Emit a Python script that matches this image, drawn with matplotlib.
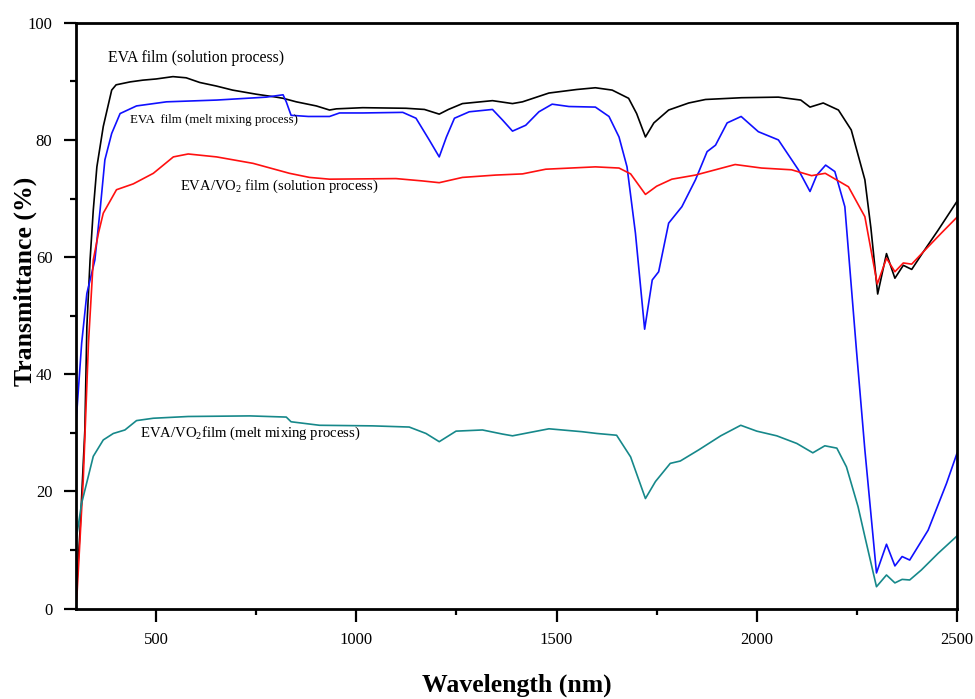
import matplotlib
matplotlib.use("Agg")
import matplotlib.pyplot as plt
from matplotlib.ticker import MultipleLocator

plt.rcParams['font.family'] = ['Liberation Serif', 'DejaVu Serif']
plt.rcParams['mathtext.fontset'] = 'custom'
plt.rcParams['mathtext.rm'] = 'Liberation Serif'
plt.rcParams['mathtext.it'] = 'Liberation Serif:italic'

# EVA film (solution process)
eva_sol_x = [300, 310, 322, 327, 335, 343, 352, 368, 389, 400, 435, 467, 500, 542, 575, 609,
             650, 691, 750, 800, 817, 850, 900, 933, 950, 1016, 1124, 1170, 1207, 1230, 1265,
             1340, 1390, 1415, 1481, 1550, 1597, 1639, 1680, 1700, 1722, 1743, 1780, 1830,
             1872, 1962, 2054, 2110, 2133, 2166, 2204, 2236, 2270, 2285, 2302, 2324, 2345,
             2366, 2387, 2416, 2453, 2500]
eva_sol_y = [2, 13.4, 30.5, 48.1, 59.5, 68, 75.4, 82.3, 88.5, 89.4, 89.9, 90.2, 90.4, 90.8,
             90.6, 89.8, 89.2, 88.5, 87.8, 87.3, 87.1, 86.5, 85.8, 85.1, 85.3, 85.5, 85.4,
             85.2, 84.4, 85.2, 86.2, 86.7, 86.2, 86.5, 88.0, 88.6, 88.9, 88.5, 87.1, 84.5,
             80.5, 82.9, 85.1, 86.3, 86.9, 87.2, 87.3, 86.8, 85.6, 86.3, 85.1, 81.7, 73.2,
             65, 53.7, 60.6, 56.4, 58.6, 57.9, 60.9, 64.6, 69.5]

# EVA film (melt mixing process)
eva_melt_x = [300, 314, 327, 347, 360, 372, 389, 410, 451, 526, 651, 775, 817, 825, 837, 880,
              933, 958, 1016, 1116, 1149, 1182, 1207, 1225, 1245, 1282, 1340, 1365, 1390,
              1423, 1456, 1489, 1531, 1597, 1631, 1656, 1676, 1697, 1720, 1739, 1755, 1780,
              1813, 1847, 1876, 1897, 1926, 1961, 2004, 2054, 2104, 2133, 2150, 2172, 2195,
              2220, 2249, 2270, 2299, 2324, 2345, 2363, 2382, 2428, 2474, 2500]
eva_melt_y = [31.7, 45.3, 53.8, 59.5, 68, 76.6, 81.1, 84.5, 85.8, 86.5, 86.8, 87.3, 87.7,
              86.5, 84.2, 84.0, 84.0, 84.6, 84.6, 84.7, 83.7, 80, 77.1, 80.5, 83.7, 84.8,
              85.2, 83.4, 81.5, 82.5, 84.8, 86.1, 85.7, 85.6, 84.0, 80.5, 75.4, 64.1, 47.7,
              56.1, 57.5, 65.8, 68.6, 73.2, 78.0, 79.1, 82.9, 84.0, 81.4, 80.0, 74.9, 71.2,
              74.0, 75.7, 74.6, 68.6, 44.1, 27.1, 6.1, 11.0, 7.3, 8.9, 8.3, 13.4, 21.4, 26.5]

# EVA/VO2 film (solution process)
vo2_sol_x = [300, 303, 318, 331, 343, 356, 368, 401, 443, 493, 543, 580, 651, 742, 833, 883,
             933, 1099, 1165, 1207, 1265, 1348, 1415, 1473, 1597, 1656, 1685, 1722, 1750,
             1788, 1847, 1946, 2012, 2087, 2137, 2171, 2229, 2270, 2301, 2324, 2345, 2366,
             2387, 2416, 2461, 2500]
vo2_sol_y = [0.5, 3.2, 22, 45.3, 59.5, 64.1, 67.5, 71.5, 72.5, 74.3, 77.1, 77.6, 77.1, 76.0,
             74.3, 73.6, 73.3, 73.4, 73.0, 72.7, 73.6, 74.0, 74.2, 75.0, 75.4, 75.2, 74.2,
             70.7, 72.1, 73.3, 74.0, 75.8, 75.2, 74.9, 73.9, 74.3, 72.0, 66.9, 55.4, 59.8,
             57.5, 59.0, 58.8, 60.9, 64.1, 66.8]

# EVA/VO2 film (melt mixing process)
vo2_melt_x = [300, 314, 343, 368, 393, 422, 451, 493, 580, 734, 825, 837, 908, 1040, 1132,
              1174, 1207, 1249, 1315, 1365, 1390, 1481, 1564, 1601, 1650, 1685, 1722, 1747,
              1784, 1809, 1855, 1910, 1960, 2000, 2050, 2100, 2140, 2170, 2200, 2224, 2253,
              2270, 2299, 2324, 2345, 2363, 2382, 2411, 2453, 2500]
vo2_melt_y = [11.7, 18, 26, 28.8, 29.9, 30.5, 32.1, 32.5, 32.8, 32.9, 32.7, 31.9, 31.3, 31.2,
              31.0, 29.9, 28.5, 30.3, 30.5, 29.8, 29.5, 30.7, 30.2, 29.9, 29.6, 25.9, 18.8,
              21.7, 24.8, 25.2, 27.1, 29.5, 31.3, 30.3, 29.5, 28.2, 26.6, 27.8, 27.4, 24.2,
              17.4, 12.3, 3.75, 5.75, 4.4, 5.0, 4.9, 6.6, 9.45, 12.4]

fig = plt.figure(figsize=(9.75, 6.99), dpi=100)
ax = fig.add_axes([0.078, 0.1292, 0.9035, 0.8383])

ax.plot(eva_sol_x, eva_sol_y, color='black', lw=1.2)
ax.plot(eva_melt_x, eva_melt_y, color='#1010ff', lw=1.2)
ax.plot(vo2_sol_x, vo2_sol_y, color='#ff1010', lw=1.2)
ax.plot(vo2_melt_x, vo2_melt_y, color='#16888a', lw=1.2)

# curve labels
ax.text(380, 94.0, 'EVA film (solution process)', fontsize=11.3, va='center')
ax.text(434, 83.4, 'EVA  film (melt mixing process)', fontsize=9.3, va='center')
ax.text(559, 72.1, 'EVA/VO$_{2}$ film (solution process)', fontsize=10.5, va='center')
ax.text(459, 30.0, 'EVA/VO$_{2}$film (melt mixing process)', fontsize=10.6, va='center')

ax.set_xlim(300, 2500)
ax.set_ylim(0, 100)
ax.xaxis.set_major_locator(MultipleLocator(500))
ax.xaxis.set_minor_locator(MultipleLocator(250))
ax.yaxis.set_major_locator(MultipleLocator(20))
ax.yaxis.set_minor_locator(MultipleLocator(10))
ax.tick_params(which='major', direction='out', length=9, width=1.6, labelsize=12, pad=8)
ax.tick_params(which='minor', direction='out', length=4.5, width=1.6)
for s in ax.spines.values():
    s.set_linewidth(2)

ax.set_xlabel('Wavelength (nm)', fontsize=18.5, fontweight='bold', va='top')
ax.set_ylabel('Transmittance (%)', fontsize=18.5, fontweight='bold')
ax.xaxis.set_label_coords(0.5, -0.11)
ax.yaxis.set_label_coords(-0.044, 0.558)

fig.savefig('out.png', dpi=100)
